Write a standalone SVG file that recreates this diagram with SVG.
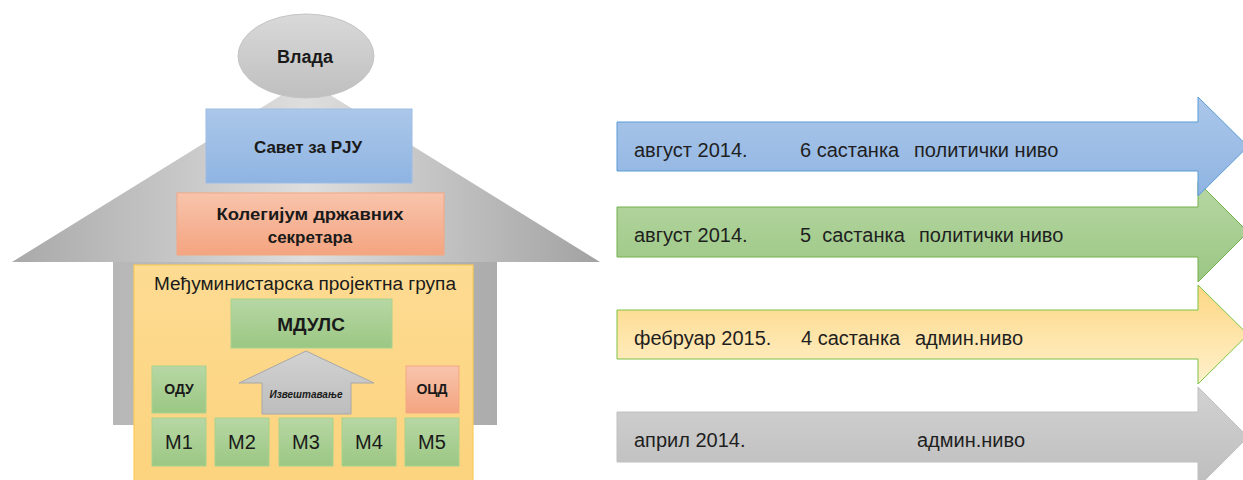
<svg xmlns="http://www.w3.org/2000/svg" width="1243" height="480" viewBox="0 0 1243 480">
<defs>
<linearGradient id="gHouse" gradientUnits="userSpaceOnUse" x1="12" y1="0" x2="600" y2="0">
<stop offset="0" stop-color="#a9a9a9"/>
<stop offset="0.5" stop-color="#dedede"/>
<stop offset="1" stop-color="#a2a2a2"/>
</linearGradient>
<linearGradient id="gWall" x1="0" y1="0" x2="1" y2="0">
<stop offset="0" stop-color="#b4b4b4"/>
<stop offset="1" stop-color="#a4a4a4"/>
</linearGradient>
<linearGradient id="gGrey" x1="0" y1="0" x2="0" y2="1">
<stop offset="0" stop-color="#d9d9d9"/>
<stop offset="1" stop-color="#bfbfbf"/>
</linearGradient>
<linearGradient id="gBlue" x1="0" y1="0" x2="0" y2="1">
<stop offset="0" stop-color="#abc7e9"/>
<stop offset="1" stop-color="#8fb4e2"/>
</linearGradient>
<linearGradient id="gSalmon" x1="0" y1="0" x2="0" y2="1">
<stop offset="0" stop-color="#f8c4ac"/>
<stop offset="1" stop-color="#f4a480"/>
</linearGradient>
<linearGradient id="gGreen" x1="0" y1="0" x2="0" y2="1">
<stop offset="0" stop-color="#b7d7a4"/>
<stop offset="1" stop-color="#9bc783"/>
</linearGradient>
<linearGradient id="gYellowBox" x1="0" y1="0" x2="0" y2="1">
<stop offset="0" stop-color="#fddb92"/>
<stop offset="1" stop-color="#fcd37d"/>
</linearGradient>
<linearGradient id="gYellowArrow" x1="0" y1="0" x2="0" y2="1">
<stop offset="0" stop-color="#fdd784"/>
<stop offset="1" stop-color="#fff1cc"/>
</linearGradient>
<linearGradient id="gArrowGrey" x1="0" y1="0" x2="0" y2="1">
<stop offset="0" stop-color="#d2d2d2"/>
<stop offset="1" stop-color="#bdbdbd"/>
</linearGradient>
</defs>
<style>
.lb{font-family:"Liberation Sans",Arial,sans-serif;font-weight:bold;fill:#1a1a1a;text-anchor:middle}
.ln{font-family:"Liberation Sans",Arial,sans-serif;fill:#1a1a1a;text-anchor:middle}
.rt{font-family:"Liberation Sans",Arial,sans-serif;font-size:20px;fill:#1f1f1f}
.gbox{fill:url(#gGreen);stroke:#a9d18e;stroke-width:1}
</style>

<g id="house">
<polygon points="306,80 12,262 113,262 113,425 497,425 497,262 600,262" fill="url(#gHouse)"/>
<rect x="113" y="262" width="384" height="163" fill="url(#gWall)" opacity="0.6"/>
</g>

<g id="vlada">
<ellipse cx="306" cy="56" rx="68" ry="42" fill="url(#gGrey)" stroke="#c4c4c4" stroke-width="1"/>
<text class="lb" x="305" y="63" font-size="18">Влада</text>
</g>

<g id="savet">
<rect x="206" y="109" width="206" height="74" fill="url(#gBlue)" stroke="#9dbce3" stroke-width="1"/>
<text class="lb" x="308" y="153" font-size="17">Савет за РЈУ</text>
</g>

<g id="kolegijum">
<rect x="177" y="193" width="267" height="62" fill="url(#gSalmon)" stroke="#f3a782" stroke-width="1"/>
<text class="lb" x="310" y="220" font-size="17" textLength="187" lengthAdjust="spacingAndGlyphs">Колегијум државних</text>
<text class="lb" x="310" y="243" font-size="17">секретара</text>
</g>

<g id="grupa">
<rect x="134" y="265" width="339" height="225" fill="url(#gYellowBox)" stroke="#f9cb5a" stroke-width="1.2"/>
<text class="ln" x="305" y="290" font-size="18" textLength="302" lengthAdjust="spacingAndGlyphs">Међуминистарска пројектна група</text>
</g>

<g id="mduls">
<rect x="231" y="299" width="161" height="49" class="gbox"/>
<text class="lb" x="311" y="331" font-size="19">МДУЛС</text>
</g>

<g id="odu">
<rect x="152" y="366" width="54" height="47" class="gbox"/>
<text class="lb" x="179" y="394" font-size="14">ОДУ</text>
</g>

<g id="ocd">
<rect x="406" y="366" width="53" height="47" fill="url(#gSalmon)" stroke="#f3a782" stroke-width="1"/>
<text class="lb" x="432" y="394" font-size="14">ОЦД</text>
</g>

<g id="izvestavanje">
<polygon points="306,351 374,383 351,383 351,414 262,414 262,383 239,383" fill="url(#gArrowGrey)" stroke="#a8a8a8" stroke-width="1"/>
<text class="lb" x="306" y="398" font-size="10" font-style="italic" fill="#333">Извештавање</text>
</g>

<g id="m1"><rect x="152" y="418" width="54" height="48" class="gbox"/><text class="ln" x="179" y="449" font-size="20">M1</text></g>
<g id="m2"><rect x="215" y="418" width="54" height="48" class="gbox"/><text class="ln" x="242" y="449" font-size="20">M2</text></g>
<g id="m3"><rect x="279" y="418" width="54" height="48" class="gbox"/><text class="ln" x="306" y="449" font-size="20">M3</text></g>
<g id="m4"><rect x="342" y="418" width="54" height="48" class="gbox"/><text class="ln" x="369" y="449" font-size="20">M4</text></g>
<g id="m5"><rect x="405" y="418" width="54" height="48" class="gbox"/><text class="ln" x="432" y="449" font-size="20">M5</text></g>

<g id="arrow-april">
<path d="M617,412 H1198 V387 L1248,437 L1198,487 V462 H617 Z" fill="url(#gArrowGrey)" stroke="#c0c0c0" stroke-width="1"/>
<text class="rt" x="634" y="447">април 2014.</text>
<text class="rt" x="917" y="447">админ.ниво</text>
</g>

<g id="arrow-februar">
<path d="M617,310 H1198 V285 L1248,334.5 L1198,384 V359 H617 Z" fill="url(#gYellowArrow)" stroke="#7dc242" stroke-width="1"/>
<text class="rt" x="634" y="345">фебруар 2015.</text>
<text class="rt" x="801" y="345">4 састанка</text>
<text class="rt" x="915" y="345">админ.ниво</text>
</g>

<g id="arrow-avgust-5">
<path d="M617,207 H1198 V182 L1248,232 L1198,282 V257 H617 Z" fill="url(#gGreen)" stroke="#72b04a" stroke-width="1"/>
<text class="rt" x="634" y="242">август 2014.</text>
<text class="rt" x="800" y="242" xml:space="preserve">5  састанка</text>
<text class="rt" x="919" y="242">политички ниво</text>
</g>

<g id="arrow-avgust-6">
<path d="M617,122 H1198 V97 L1248,146.5 L1198,196 V171 H617 Z" fill="url(#gBlue)" stroke="#5b9bd5" stroke-width="1"/>
<text class="rt" x="634" y="157">август 2014.</text>
<text class="rt" x="800" y="157">6 састанка</text>
<text class="rt" x="914" y="157">политички ниво</text>
</g>

<g id="connectors"></g>
</svg>
